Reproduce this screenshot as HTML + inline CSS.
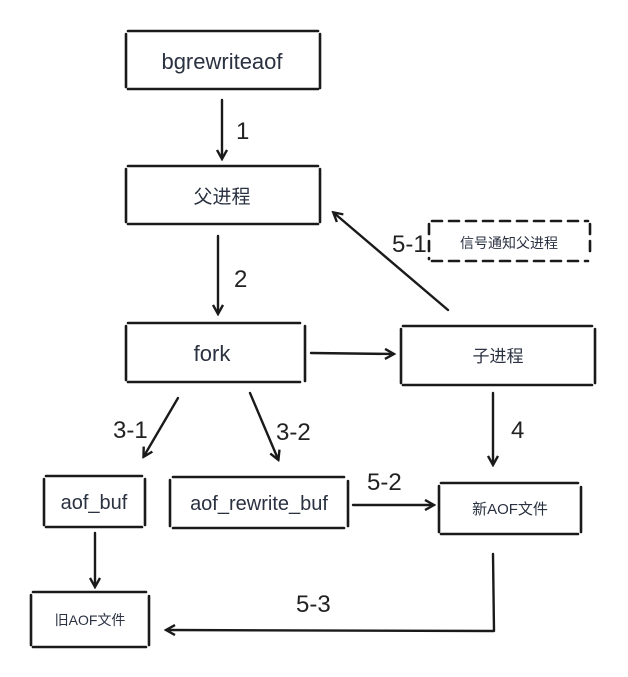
<!DOCTYPE html>
<html><head><meta charset="utf-8"><style>
html,body{margin:0;padding:0;background:#fff;}
svg{display:block}
text{font-family:"Liberation Sans","Noto Sans CJK SC",sans-serif;fill:#2a3140;}
.b{fill:none;stroke:#1a1a1a;stroke-width:2.6;stroke-linecap:round}
.a{fill:none;stroke:#1a1a1a;stroke-width:2.4;stroke-linecap:round;stroke-linejoin:round}
.l{font-size:24px;fill:#222}
</style></head><body>
<svg width="628" height="677" viewBox="0 0 628 677">
<defs><marker id="ar" markerWidth="12" markerHeight="12" refX="9" refY="6" orient="auto" markerUnits="userSpaceOnUse"><path d="M1,1 L10,6 L1,11" fill="none" stroke="#1a1a1a" stroke-width="2.4"/></marker></defs>

<g><path class="b" d="M128,31 H318 M128,89 H318 M126,34 V87 M320,34 V88"/><text x="222" y="69" font-size="22" text-anchor="middle">bgrewriteaof</text></g>
<g><path class="b" d="M128,166 H318 M128,224 H318 M126,169 V222 M320,169 V222"/><text x="222" y="203" font-size="19" text-anchor="middle">父进程</text></g>
<g><path class="b" d="M128,323 H300 M128,382 H300 M126,326 V380 M305,326 V381"/><text x="212" y="361" font-size="22" text-anchor="middle">fork</text></g>
<g><path class="b" d="M403,326 H592 M403,385 H592 M401,329 V383 M595,329 V383"/><text x="498" y="362" font-size="17" text-anchor="middle">子进程</text></g>
<g><path class="b" stroke-dasharray="10,7" d="M432,221 H588 M432,261 H588 M429,224 V259 M590,224 V258"/><text x="509" y="248" font-size="14" text-anchor="middle">信号通知父进程</text></g>
<g><path class="b" d="M46,476 H142 M46,527 H142 M44,479 V525 M145,479 V525"/><text x="94" y="509" font-size="20" text-anchor="middle">aof_buf</text></g>
<g><path class="b" d="M173,477 H344 M173,528 H344 M170,480 V526 M348,481 V526"/><text x="259" y="510" font-size="20" text-anchor="middle">aof_rewrite_buf</text></g>
<g><path class="b" d="M441,483 H578 M441,534 H578 M439,486 V532 M581,487 V532"/><text x="510" y="514" font-size="15" text-anchor="middle">新AOF文件</text></g>
<g><path class="b" d="M33,592 H146 M33,647 H146 M31,595 V645 M149,596 V645"/><text x="90" y="625" font-size="14" text-anchor="middle">旧AOF文件</text></g>

<g>
<path class="a" marker-end="url(#ar)" d="M222,100 L222,158"/>
<path class="a" marker-end="url(#ar)" d="M218,236 L218,313"/>
<path class="a" marker-end="url(#ar)" d="M311,353 L393,354"/>
<path class="a" marker-end="url(#ar)" d="M448,310 L334,213"/>
<path class="a" marker-end="url(#ar)" d="M178,398 L144,456"/>
<path class="a" marker-end="url(#ar)" d="M250,393 L278,459"/>
<path class="a" marker-end="url(#ar)" d="M493,393 L493,464"/>
<path class="a" marker-end="url(#ar)" d="M353,505 L433,505"/>
<path class="a" marker-end="url(#ar)" d="M95,533 L95,586"/>
<path class="a" marker-end="url(#ar)" d="M493,554 L494,631 L167,630"/>
</g>
<g>
<text class="l" x="236" y="139">1</text>
<text class="l" x="234" y="287">2</text>
<text class="l" x="392" y="252">5-1</text>
<text class="l" x="113" y="438">3-1</text>
<text class="l" x="276" y="440">3-2</text>
<text class="l" x="511" y="438">4</text>
<text class="l" x="367" y="490">5-2</text>
<text class="l" x="296" y="612">5-3</text>
</g>
</svg>
</body></html>
